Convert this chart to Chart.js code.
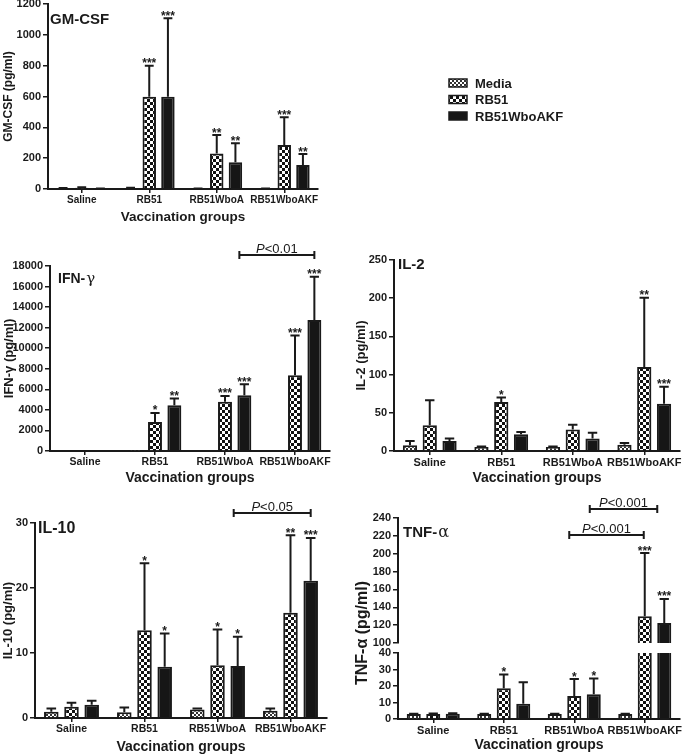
<!DOCTYPE html>
<html>
<head>
<meta charset="utf-8">
<script src="https://cdn.jsdelivr.net/npm/chart.js@4.4.1/dist/chart.umd.min.js"></script>
<style>
  body { margin: 0; background: #fff; }
  #fig { position: relative; width: 682px; height: 756px; overflow: hidden; }
  #fig canvas { position: absolute; }
</style>
</head>
<body>
<div id="fig">
  <canvas id="gmcsf"></canvas>
  <canvas id="ifng"></canvas>
  <canvas id="il2"></canvas>
  <canvas id="il10"></canvas>
  <canvas id="tnfLow"></canvas>
  <canvas id="tnfHigh"></canvas>
</div>
<script>
const groups = ["Saline", "RB51", "RB51WboA", "RB51WboAKF"];
const seriesNames = ["Media", "RB51", "RB51WboAKF"];

// GM-CSF (pg/ml): means, top of error bar, significance marks
const gmMedia = [5, 6, 3, 3];
const gmMediaTop = [6, 8, 4, 4];
const gmRB51 = [8, 599, 231, 285];
const gmRB51Top = [12, 800, 350, 465];
const gmRB51Stars = ["", "***", "**", "***"];
const gmAKF = [3, 599, 173, 156];
const gmAKFTop = [4, 1107, 296, 227];
const gmAKFStars = ["", "***", "**", "**"];
const gmYMax = 1200, gmYStep = 200;

// IFN-gamma (pg/ml)
const ifnMedia = [0, 40, 0, 0];
const ifnMediaTop = [null, null, null, null];
const ifnRB51 = [0, 2830, 4780, 7380];
const ifnRB51Top = [null, 3700, 5360, 11240];
const ifnRB51Stars = ["", "*", "***", "***"];
const ifnAKF = [0, 4450, 5430, 12740];
const ifnAKFTop = [null, 5100, 6500, 16960];
const ifnAKFStars = ["", "**", "***", "***"];
const ifnYMax = 18000, ifnYStep = 2000;

// IL-2 (pg/ml)
const il2Media = [7.4, 5.2, 5.2, 8.3];
const il2MediaTop = [13.1, 5.8, 6, 10.5];
const il2RB51 = [33.7, 64.2, 28, 110];
const il2RB51Top = [66.4, 69.9, 34.5, 200.6];
const il2RB51Stars = ["", "*", "", "**"];
const il2AKF = [13.1, 21.9, 16.2, 62];
const il2AKFTop = [16.2, 24.9, 24, 84];
const il2AKFStars = ["", "", "", "***"];
const il2YMax = 250, il2YStep = 50;

// IL-10 (pg/ml)
const il10Media = [0.95, 0.9, 1.3, 1.1];
const il10MediaTop = [1.45, 1.6, 1.45, 1.45];
const il10RB51 = [1.75, 13.5, 8.1, 16.2];
const il10RB51Top = [2.35, 23.8, 13.6, 28.1];
const il10RB51Stars = ["", "*", "*", "**"];
const il10AKF = [2.05, 7.9, 8.0, 21.1];
const il10AKFTop = [2.65, 13.0, 12.5, 27.7];
const il10AKFStars = ["", "*", "*", "***"];
const il10YMax = 30, il10YStep = 10;

// TNF-alpha (pg/ml), broken axis 0-40 / 100-240
const tnfMedia = [3, 3, 3, 3];
const tnfMediaTop = [3.2, 3.2, 3.2, 3.2];
const tnfRB51 = [3, 18.6, 14, 129.9];
const tnfRB51Top = [3.3, 27, 24.2, 200.8];
const tnfRB51Stars = ["", "*", "*", "***"];
const tnfAKF = [3.2, 9.3, 15, 122.4];
const tnfAKFTop = [3.5, 22.2, 24.6, 149.3];
const tnfAKFStars = ["", "", "*", "***"];
const tnfLowMax = 40, tnfLowStep = 10;
const tnfHighMin = 100, tnfHighMax = 240, tnfHighStep = 20;

const FONT = "Arial, 'Liberation Sans', sans-serif";
const INK = "#1a1a1a";

function checker(cell, dark, light) {
  const c = document.createElement("canvas");
  c.width = c.height = cell * 2;
  const g = c.getContext("2d");
  g.fillStyle = light;
  g.fillRect(0, 0, cell * 2, cell * 2);
  g.fillStyle = dark;
  g.fillRect(0, 0, cell, cell);
  g.fillRect(cell, cell, cell, cell);
  return g.createPattern(c, "repeat");
}
const fills = [checker(2, "#333", "#fff"), checker(3, "#111", "#fff"), "#161616"];

const errorBars = {
  id: "errorBars",
  afterDatasetsDraw(chart) {
    const ctx = chart.ctx, y = chart.scales.y;
    ctx.save();
    ctx.strokeStyle = INK;
    ctx.fillStyle = INK;
    ctx.lineWidth = 2;
    ctx.font = "bold 12px " + FONT;
    ctx.textAlign = "center";
    chart.data.datasets.forEach((ds, i) => {
      chart.getDatasetMeta(i).data.forEach((bar, j) => {
        const top = ds.errTop[j];
        if (top == null || top < y.min || top > y.max) return;
        const v = Math.max(ds.data[j] || 0, y.min);
        const yTop = y.getPixelForValue(top);
        const yBar = y.getPixelForValue(v);
        const half = bar.width * 0.33;
        ctx.beginPath();
        ctx.moveTo(bar.x, yBar);
        ctx.lineTo(bar.x, yTop);
        ctx.moveTo(bar.x - half, yTop);
        ctx.lineTo(bar.x + half, yTop);
        ctx.stroke();
        const star = ds.stars[j];
        if (star) ctx.fillText(star, bar.x, yTop + 1.5);
      });
    });
    ctx.restore();
  }
};

const panelLabel = {
  id: "panelLabel",
  afterDraw(chart, args, o) {
    if (!o.text) return;
    const ctx = chart.ctx, a = chart.chartArea;
    const x = a.left + o.dx, y = a.top + o.dy;
    ctx.save();
    ctx.fillStyle = INK;
    ctx.font = "bold " + o.size + "px " + FONT;
    ctx.fillText(o.text, x, y);
    if (o.greek) {
      const w = ctx.measureText(o.text).width;
      ctx.font = (o.size + 1) + "px 'DejaVu Serif', serif";
      ctx.fillText(o.greek, x + w + 1, y);
    }
    ctx.restore();
  }
};

const brackets = {
  id: "brackets",
  afterDraw(chart, args, o) {
    if (!o.items) return;
    const ctx = chart.ctx;
    o.items.forEach(b => {
      const x1 = chart.getDatasetMeta(b.from[0]).data[b.from[1]].x + b.dx1;
      const x2 = chart.getDatasetMeta(b.to[0]).data[b.to[1]].x + b.dx2;
      const y = chart.chartArea.top + b.dy;
      ctx.save();
      ctx.strokeStyle = INK;
      ctx.fillStyle = INK;
      ctx.lineWidth = 2;
      ctx.beginPath();
      ctx.moveTo(x1, y); ctx.lineTo(x2, y);
      ctx.moveTo(x1, y - 4); ctx.lineTo(x1, y + 4);
      ctx.moveTo(x2, y - 4); ctx.lineTo(x2, y + 4);
      ctx.stroke();
      ctx.font = "italic 13px " + FONT;
      const wp = ctx.measureText("P").width;
      ctx.font = "13px " + FONT;
      const wr = ctx.measureText(b.text).width;
      const sx = (x1 + x2) / 2 - (wp + wr) / 2;
      ctx.fillText(b.text, sx + wp, y - 2);
      ctx.font = "italic 13px " + FONT;
      ctx.fillText("P", sx, y - 2);
      ctx.restore();
    });
  }
};

const sideLegend = {
  id: "sideLegend",
  afterDraw(chart, args, o) {
    if (o.x == null) return;
    const ctx = chart.ctx;
    ctx.save();
    chart.data.datasets.forEach((ds, i) => {
      const y = o.y + i * o.step;
      ctx.fillStyle = ds.backgroundColor;
      ctx.fillRect(o.x, y - 4, 18, 8);
      ctx.strokeStyle = INK;
      ctx.lineWidth = 1.5;
      ctx.strokeRect(o.x, y - 4, 18, 8);
      ctx.fillStyle = INK;
      ctx.font = "bold 13px " + FONT;
      ctx.textBaseline = "middle";
      ctx.fillText(ds.label, o.x + 26, y + 1);
    });
    ctx.restore();
  }
};

const freeTitle = {
  id: "freeTitle",
  afterDraw(chart, args, o) {
    if (!o.text) return;
    const ctx = chart.ctx;
    ctx.save();
    ctx.translate(o.x, o.y);
    ctx.rotate(-Math.PI / 2);
    ctx.fillStyle = INK;
    ctx.font = "bold " + o.size + "px " + FONT;
    ctx.textAlign = "center";
    ctx.textBaseline = "middle";
    ctx.fillText(o.text, 0, 0);
    ctx.restore();
  }
};

Chart.register(errorBars, panelLabel, brackets, sideLegend, freeTitle);

function drawPanel(p) {
  const cv = document.getElementById(p.id);
  const [bx, by, bw, bh] = p.box;
  const [left, top, right, bottom] = p.area;
  cv.width = bw; cv.height = bh;
  cv.style.left = bx + "px"; cv.style.top = by + "px";
  const yMin = p.yMin || 0;
  const datasets = p.series.map((s, i) => ({
    label: seriesNames[i],
    data: yMin > 0 ? s[0].map(v => (v > yMin ? v : null)) : s[0],
    errTop: s[1],
    stars: s[2] || [],
    backgroundColor: fills[i],
    borderColor: INK,
    borderWidth: 2,
    categoryPercentage: 0.83,
    barPercentage: 0.72
  }));
  const showX = p.showX !== false;
  return new Chart(cv, {
    type: "bar",
    data: { labels: groups, datasets: datasets },
    options: {
      responsive: false,
      animation: false,
      devicePixelRatio: 1,
      layout: { padding: { left: 0, top: top - by, right: bx + bw - right, bottom: showX ? 0 : by + bh - bottom } },
      plugins: {
        legend: { display: false },
        tooltip: { enabled: false },
        panelLabel: p.label || {},
        brackets: { items: p.brackets },
        sideLegend: p.legend || {},
        freeTitle: p.freeTitle || {}
      },
      scales: {
        x: {
          display: showX,
          grid: { display: true, drawOnChartArea: false, offset: false, tickLength: 4, color: INK, lineWidth: 1.5 },
          border: { color: INK, width: 2 },
          ticks: { color: INK, autoSkip: false, maxRotation: 0, padding: 1, font: { family: FONT, weight: "bold", size: p.xSize } },
          title: { display: true, text: "Vaccination groups", color: INK, padding: { top: 0, bottom: p.xTitlePad }, font: { family: FONT, weight: "bold", size: p.xTitleSize } },
          afterFit(s) {
            if (!showX) return;
            s.height = by + bh - bottom;
            s.paddingLeft = 0; s.paddingRight = 0;
          }
        },
        y: {
          min: yMin,
          max: p.yMax,
          grid: { display: true, drawOnChartArea: false, tickLength: 5, color: INK, lineWidth: 1.5 },
          border: { color: INK, width: 2 },
          ticks: { stepSize: p.yStep, color: INK, padding: 2, callback: v => String(v), font: { family: FONT, weight: "bold", size: p.tickSize } },
          title: { display: !!p.yTitle, text: p.yTitle, color: INK, padding: { top: p.yTitlePad, bottom: 0 }, font: { family: FONT, weight: "bold", size: p.yTitleSize } },
          afterFit(s) {
            s.width = left - bx;
            s.paddingTop = 0; s.paddingBottom = 0;
          }
        }
      }
    }
  });
}

drawPanel({
  id: "gmcsf", box: [0, 0, 682, 225], area: [48, 4, 318, 189],
  yMax: gmYMax, yStep: gmYStep,
  series: [[gmMedia, gmMediaTop], [gmRB51, gmRB51Top, gmRB51Stars], [gmAKF, gmAKFTop, gmAKFStars]],
  yTitle: "GM-CSF (pg/ml)", yTitleSize: 12, yTitlePad: 1,
  tickSize: 11, xSize: 10, xTitleSize: 13.5, xTitlePad: 0,
  label: { text: "GM-CSF", size: 15, dx: 2, dy: 20 },
  legend: { x: 449, y: 83, step: 16.5 }
});

drawPanel({
  id: "ifng", box: [0, 230, 340, 258], area: [50, 266, 330, 451],
  yMax: ifnYMax, yStep: ifnYStep,
  series: [[ifnMedia, ifnMediaTop], [ifnRB51, ifnRB51Top, ifnRB51Stars], [ifnAKF, ifnAKFTop, ifnAKFStars]],
  yTitle: "IFN-γ (pg/ml)", yTitleSize: 13, yTitlePad: 2,
  tickSize: 11, xSize: 10.5, xTitleSize: 14, xTitlePad: 1.5,
  label: { text: "IFN-", greek: "γ", size: 14, dx: 8, dy: 17 },
  brackets: [{ from: [2, 2], to: [2, 3], dx1: -5, dx2: 0, dy: -11, text: "<0.01" }]
});

drawPanel({
  id: "il2", box: [340, 230, 342, 258], area: [394, 260, 680, 451],
  yMax: il2YMax, yStep: il2YStep,
  series: [[il2Media, il2MediaTop], [il2RB51, il2RB51Top, il2RB51Stars], [il2AKF, il2AKFTop, il2AKFStars]],
  yTitle: "IL-2 (pg/ml)", yTitleSize: 13, yTitlePad: 14,
  tickSize: 11, xSize: 11, xTitleSize: 14, xTitlePad: 1.5,
  label: { text: "IL-2", size: 15, dx: 4, dy: 9 }
});

drawPanel({
  id: "il10", box: [0, 488, 340, 268], area: [35, 523, 327, 718],
  yMax: il10YMax, yStep: il10YStep,
  series: [[il10Media, il10MediaTop], [il10RB51, il10RB51Top, il10RB51Stars], [il10AKF, il10AKFTop, il10AKFStars]],
  yTitle: "IL-10 (pg/ml)", yTitleSize: 13, yTitlePad: 1,
  tickSize: 11, xSize: 10.5, xTitleSize: 14, xTitlePad: 0.5,
  label: { text: "IL-10", size: 16, dx: 3, dy: 10 },
  brackets: [{ from: [2, 2], to: [2, 3], dx1: -4, dx2: 0, dy: -10, text: "<0.05" }]
});

drawPanel({
  id: "tnfLow", box: [340, 488, 342, 268], area: [398, 653, 680, 719],
  yMax: tnfLowMax, yStep: tnfLowStep,
  series: [[tnfMedia, tnfMediaTop], [tnfRB51, tnfRB51Top, tnfRB51Stars], [tnfAKF, tnfAKFTop, tnfAKFStars]],
  tickSize: 11, xSize: 11, xTitleSize: 14, xTitlePad: 2.5,
  freeTitle: { text: "TNF-α (pg/ml)", x: 23, y: 145, size: 16 }
});

drawPanel({
  id: "tnfHigh", box: [340, 488, 342, 162], area: [398, 518, 680, 643],
  yMin: tnfHighMin, yMax: tnfHighMax, yStep: tnfHighStep, showX: false,
  series: [[tnfMedia, tnfMediaTop], [tnfRB51, tnfRB51Top, tnfRB51Stars], [tnfAKF, tnfAKFTop, tnfAKFStars]],
  tickSize: 11,
  label: { text: "TNF-", greek: "α", size: 15, dx: 5, dy: 19 },
  brackets: [
    { from: [2, 2], to: [2, 3], dx1: -4, dx2: -7, dy: -9, text: "<0.001" },
    { from: [1, 2], to: [1, 3], dx1: -5, dx2: -1, dy: 17, text: "<0.001" }
  ]
});
</script>
</body>
</html>
